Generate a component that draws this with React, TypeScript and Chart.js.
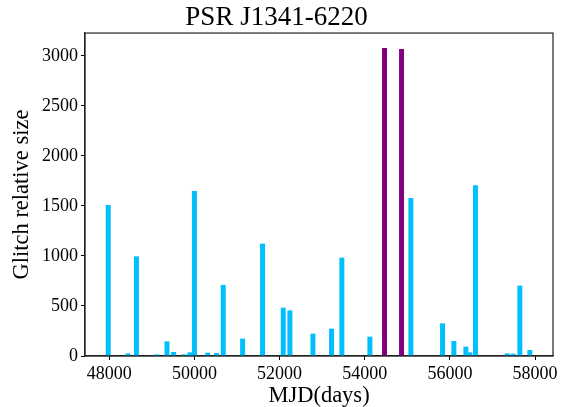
import React, { useEffect, useRef } from "react";
import { Chart, registerables } from "chart.js";

Chart.register(...registerables);

const title = "PSR J1341-6220";
const xLabel = "MJD(days)";
const yLabel = "Glitch relative size";

const normalMjd = [47976, 48440, 48638, 49120, 49355, 49510, 49753, 49895, 50000, 50310, 50520, 50676, 51131, 51600, 52085, 52242, 52782, 53220, 53462, 54120, 55082, 55826, 56092, 56374, 56467, 56600, 57343, 57484, 57641, 57876];
const normalSize = [1505, 23, 993, 13, 143, 37, 13, 33, 1647, 30, 27, 707, 170, 1120, 480, 453, 220, 270, 980, 190, 1575, 323, 147, 90, 33, 1703, 23, 20, 700, 57];

const largeMjd = [54464, 54863];
const largeSize = [3075, 3065];

const xTicks = [48000, 50000, 52000, 54000, 56000, 58000];
const yTicks = [0, 500, 1000, 1500, 2000, 2500, 3000];

const FONT = "'Liberation Serif', 'Times New Roman', serif";

const frame = {
  id: "frame",
  afterDatasetsDraw(chart: any) {
    const { ctx, chartArea } = chart;
    ctx.save();
    ctx.strokeStyle = "#222";
    ctx.lineWidth = 1.2;
    ctx.strokeRect(chartArea.left, chartArea.top, chartArea.right - chartArea.left, chartArea.bottom - chartArea.top);
    ctx.restore();
  },
};

export default function App() {
  const ref = useRef<HTMLCanvasElement>(null);
  useEffect(() => {
    const chart = new Chart(ref.current!, {
      type: "bar",
      data: {
        datasets: [
          {
            label: "glitches",
            data: normalMjd.map((x, i) => ({ x, y: normalSize[i] })),
            backgroundColor: "#00BFFF",
            grouped: false,
            barThickness: 4.3,
          } as any,
          {
            label: "large glitches",
            data: largeMjd.map((x, i) => ({ x, y: largeSize[i] })),
            backgroundColor: "#800080",
            grouped: false,
            barThickness: 4.3,
          } as any,
        ],
      },
      options: {
        responsive: false,
        animation: false,
        devicePixelRatio: 1,
        layout: { padding: { left: 0, right: 11, top: 0, bottom: 0 } },
        plugins: {
          legend: { display: false },
          tooltip: { enabled: false },
          title: {
            display: true,
            text: title,
            color: "#000",
            font: { family: FONT, size: 27, weight: "normal", lineHeight: 1.15 },
            padding: { top: 2, bottom: 0 },
          },
        },
        scales: {
          x: {
            type: "linear",
            min: 47430,
            max: 58420,
            offset: false,
            grid: { offset: false, drawOnChartArea: false, drawTicks: true, tickLength: 4, color: "#000" },
            border: { color: "#222", width: 1.2 },
            ticks: {
              color: "#000",
              font: { family: FONT, size: 18 },
              padding: 3,
              maxRotation: 0,
              callback: (v: any) => String(v),
            },
            afterBuildTicks: (axis: any) => {
              axis.ticks = xTicks.map((v) => ({ value: v }));
            },
            afterFit: (axis: any) => {
              axis.height = 51;
            },
            title: {
              display: true,
              text: xLabel,
              color: "#000",
              font: { family: FONT, size: 22.5, lineHeight: 1.0 },
              padding: { top: 0, bottom: 0 },
            },
          },
          y: {
            min: 0,
            max: 3228,
            grid: { offset: false, drawOnChartArea: false, drawTicks: true, tickLength: 4, color: "#000" },
            border: { color: "#222", width: 1.2 },
            ticks: {
              color: "#000",
              font: { family: FONT, size: 18 },
              padding: 3,
              callback: (v: any) => String(v),
            },
            afterBuildTicks: (axis: any) => {
              axis.ticks = yTicks.map((v) => ({ value: v }));
            },
            afterFit: (axis: any) => {
              axis.width = 85;
            },
            title: {
              display: true,
              text: yLabel,
              color: "#000",
              font: { family: FONT, size: 22.5 },
              padding: { top: 9, bottom: 0 },
            },
          },
        },
      },
      plugins: [frame],
    });
    return () => chart.destroy();
  }, []);
  return (
    <div style={{ position: "fixed", left: 0, top: 0, width: 564, height: 407, background: "#fff" }}>
      <canvas ref={ref} width={564} height={407} />
    </div>
  );
}
